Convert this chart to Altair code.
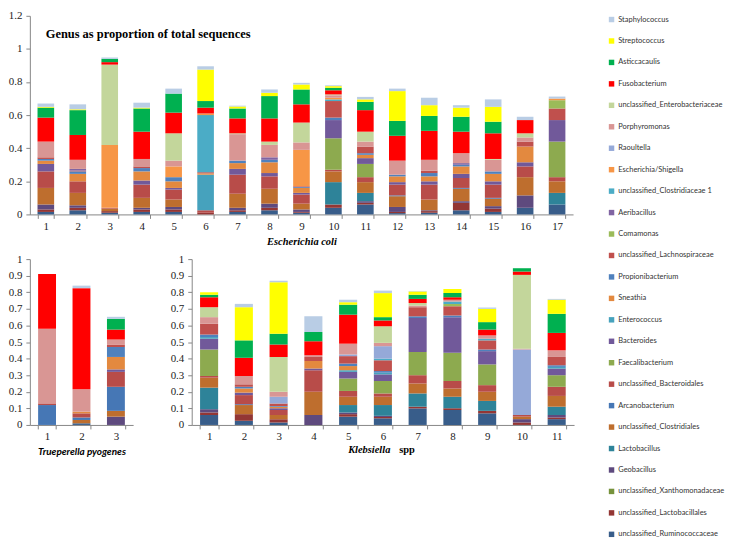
import altair as alt
import pandas as pd

# genus keys in stacking order (bottom -> top)
KEYS = ["Rum", "Lacl", "Xan", "Geo", "Lacb", "Clos", "Arc", "Bacl", "Faec", "Bact",
        "Ent", "Sne", "Prop", "Lach", "Com", "Aer", "Clo1", "Esch", "Rao", "Por",
        "Entb", "Fus", "Ast", "Strep", "Staph"]
NAMES = ["unclassified_Ruminococcaceae", "unclassified_Lactobacillales",
         "unclassified_Xanthomonadaceae", "Geobacillus", "Lactobacillus",
         "unclassified_Clostridiales", "Arcanobacterium", "unclassified_Bacteroidales",
         "Faecalibacterium", "Bacteroides", "Enterococcus", "Sneathia",
         "Propionibacterium", "unclassified_Lachnospiraceae", "Comamonas", "Aeribacillus",
         "unclassified_Clostridiaceae 1", "Escherichia/Shigella", "Raoultella",
         "Porphyromonas", "unclassified_Enterobacteriaceae", "Fusobacterium",
         "Asticcacaulis", "Streptococcus", "Staphylococcus"]
COLORS = ["#385D8A", "#933634", "#76923C", "#5E4A7E", "#2E8399",
          "#BE6E2E", "#4677B5", "#B84C49", "#8DAA4F", "#71599A",
          "#46A2BD", "#E3893F", "#4F81BD", "#C0504D", "#9BBB59",
          "#8064A2", "#4BACC6", "#F79646", "#95A9D8", "#D99694",
          "#C3D69B", "#FF0000", "#00B050", "#FFFF00", "#B9CDE5"]

ECOLI = [
    dict(Rum=.015, Lacl=.015, Geo=.03, Clos=.10, Bacl=.10, Bact=.045, Sne=.02, Prop=.01, Lach=.01, Por=.095, Fus=.145, Ast=.06, Strep=.005, Staph=.02),
    dict(Rum=.025, Lacl=.015, Geo=.015, Clos=.075, Bacl=.07, Sne=.045, Prop=.015, Lach=.005, Aer=.01, Por=.055, Fus=.15, Ast=.15, Strep=.005, Staph=.03),
    dict(Rum=.01, Lacl=.01, Clos=.015, Bacl=.005, Esch=.38, Entb=.485, Fus=.015, Ast=.02, Staph=.008),
    dict(Rum=.015, Lacl=.015, Geo=.01, Clos=.06, Bacl=.08, Bact=.025, Sne=.055, Prop=.02, Lach=.01, Por=.045, Fus=.165, Ast=.14, Strep=.005, Staph=.03),
    dict(Rum=.015, Lacl=.015, Geo=.015, Clos=.045, Bacl=.06, Bact=.01, Sne=.04, Prop=.025, Esch=.065, Por=.035, Entb=.165, Fus=.125, Ast=.115, Staph=.03),
    dict(Lacl=.01, Bacl=.015, Ent=.215, Sne=.008, Lach=.007, Clo1=.345, Esch=.01, Fus=.035, Ast=.04, Strep=.19, Staph=.02),
    dict(Rum=.015, Lacl=.01, Geo=.015, Clos=.085, Bacl=.115, Bact=.035, Sne=.035, Prop=.015, Por=.16, Entb=.005, Fus=.09, Ast=.06, Strep=.012, Staph=.005),
    dict(Rum=.025, Lacl=.015, Geo=.025, Clos=.09, Bacl=.075, Bact=.02, Sne=.065, Prop=.015, Aer=.015, Por=.075, Entb=.02, Fus=.14, Ast=.135, Strep=.02, Staph=.02),
    dict(Rum=.01, Lacl=.005, Geo=.015, Clos=.035, Bacl=.055, Bact=.01, Sne=.03, Prop=.005, Lach=.005, Esch=.22, Por=.045, Entb=.12, Fus=.11, Ast=.09, Strep=.03, Staph=.01),
    dict(Rum=.04, Lacl=.02, Lacb=.135, Clos=.065, Bacl=.01, Faec=.19, Bact=.11, Prop=.015, Lach=.1, Clo1=.01, Esch=.01, Por=.015, Entb=.005, Fus=.025, Ast=.015, Strep=.01, Staph=.005),
    dict(Rum=.06, Lacl=.01, Geo=.01, Lacb=.05, Clos=.065, Bacl=.03, Faec=.08, Bact=.035, Sne=.02, Prop=.01, Lach=.04, Por=.03, Entb=.06, Fus=.13, Ast=.05, Strep=.015, Staph=.015),
    dict(Rum=.008, Lacl=.007, Geo=.03, Clos=.065, Arc=.005, Bacl=.065, Bact=.015, Sne=.035, Prop=.01, Por=.085, Fus=.15, Ast=.09, Strep=.18, Staph=.015),
    dict(Rum=.01, Lacl=.01, Geo=.005, Clos=.065, Bacl=.09, Bact=.02, Sne=.03, Prop=.02, Lach=.015, Por=.065, Fus=.175, Ast=.09, Strep=.065, Staph=.045),
    dict(Rum=.025, Lacl=.045, Geo=.01, Clos=.075, Arc=.005, Bacl=.06, Bact=.025, Sne=.045, Prop=.01, Aer=.01, Por=.06, Fus=.13, Ast=.09, Strep=.055, Staph=.015),
    dict(Rum=.015, Lacl=.02, Geo=.015, Clos=.045, Arc=.005, Bacl=.08, Bact=.02, Sne=.045, Prop=.015, Por=.07, Entb=.005, Fus=.155, Ast=.07, Strep=.09, Staph=.045),
    dict(Rum=.04, Geo=.075, Clos=.11, Bacl=.065, Bact=.025, Sne=.095, Lach=.03, Por=.025, Entb=.025, Fus=.08, Staph=.02),
    dict(Rum=.06, Lacb=.07, Clos=.07, Bacl=.025, Faec=.215, Bact=.13, Lach=.07, Com=.05, Esch=.01, Staph=.012),
]

TRUEP = [
    dict(Arc=.12, Bacl=.01, Por=.45, Fus=.33),
    dict(Rum=.01, Clos=.02, Arc=.015, Bacl=.025, Sne=.01, Por=.135, Fus=.61, Staph=.015),
    dict(Geo=.05, Clos=.035, Arc=.145, Bacl=.09, Bact=.015, Sne=.075, Prop=.06, Lach=.015, Por=.03, Fus=.06, Ast=.065, Staph=.012),
]

KLEB = [
    dict(Rum=.06, Lacl=.015, Geo=.02, Lacb=.13, Clos=.06, Bacl=.01, Faec=.16, Bact=.065, Ent=.01, Prop=.015, Lach=.065, Por=.04, Entb=.06, Fus=.06, Ast=.015, Strep=.015),
    dict(Rum=.025, Lacl=.04, Clos=.055, Arc=.005, Bacl=.055, Bact=.015, Sne=.025, Prop=.01, Lach=.015, Por=.05, Fus=.11, Ast=.105, Strep=.2, Staph=.02),
    dict(Rum=.015, Lacl=.02, Clos=.025, Bacl=.03, Bact=.01, Sne=.01, Prop=.005, Lach=.015, Rao=.04, Por=.03, Entb=.21, Fus=.075, Ast=.065, Strep=.31, Staph=.01),
    dict(Geo=.06, Clos=.14, Bacl=.13, Bact=.01, Sne=.045, Lach=.025, Por=.01, Fus=.085, Ast=.055, Staph=.095),
    dict(Rum=.05, Lacl=.015, Geo=.01, Lacb=.045, Clos=.05, Bacl=.035, Faec=.075, Bact=.04, Ent=.01, Sne=.025, Prop=.015, Lach=.045, Rao=.01, Por=.065, Fus=.175, Ast=.06, Strep=.015, Staph=.015),
    dict(Rum=.04, Lacl=.008, Geo=.007, Lacb=.065, Clos=.05, Bacl=.02, Faec=.075, Bact=.04, Ent=.01, Prop=.01, Lach=.065, Clo1=.01, Rao=.075, Por=.02, Entb=.1, Fus=.035, Ast=.02, Strep=.145, Staph=.015),
    dict(Rum=.1, Lacl=.01, Lacb=.08, Clos=.06, Bacl=.05, Faec=.14, Bact=.205, Prop=.01, Lach=.055, Por=.01, Entb=.015, Fus=.025, Ast=.025, Strep=.02, Staph=.003),
    dict(Rum=.09, Lacl=.01, Lacb=.07, Clos=.05, Bacl=.045, Faec=.17, Bact=.215, Prop=.01, Lach=.055, Com=.015, Clo1=.015, Por=.01, Fus=.015, Ast=.025, Strep=.025),
    dict(Rum=.07, Lacl=.015, Lacb=.06, Clos=.055, Bacl=.04, Faec=.125, Bact=.08, Prop=.01, Lach=.055, Clo1=.01, Por=.02, Fus=.035, Ast=.045, Strep=.08, Staph=.008),
    dict(Lacl=.015, Geo=.02, Clos=.015, Bacl=.01, Rao=.395, Por=.005, Entb=.445, Fus=.02, Ast=.02),
    dict(Rum=.035, Lacl=.01, Geo=.015, Lacb=.05, Clos=.065, Bacl=.055, Faec=.07, Bact=.04, Ent=.01, Prop=.01, Lach=.05, Por=.04, Fus=.105, Ast=.115, Strep=.085, Staph=.005),
]

TITLE = "Genus as proportion of total sequences"
LEGEND_ORDER = NAMES[::-1]
LEGEND_COLORS = COLORS[::-1]

AX_FONT = "Liberation Serif"
AX_GRAY = "#868686"


def frame(bars):
    rows = []
    for i, b in enumerate(bars):
        for k, key in enumerate(KEYS):
            v = b.get(key, 0)
            if v > 0:
                rows.append({"bar": str(i + 1), "genus": NAMES[k], "idx": k, "value": v})
    return pd.DataFrame(rows)


def bars_chart(bars, width, height, ymax, step, xtitle=None, title_font=AX_FONT):
    df = frame(bars)
    labels = [str(i + 1) for i in range(len(bars))]
    n = int(round(ymax / step))
    ticks = [round(step * i, 2) for i in range(n)] + [ymax - 1e-6]
    xaxis = alt.Axis(labelAngle=0, tickBand="extent", tickSize=4, labelPadding=2,
                     labelFont=AX_FONT, labelFontSize=11, labelColor="#222",
                     domainColor=AX_GRAY, tickColor=AX_GRAY,
                     title=xtitle if xtitle else None,
                     titleFont=title_font, titleFontStyle="italic", titleFontWeight="bold",
                     titleFontSize=10.5 if title_font == AX_FONT else 10, titlePadding=5,
                     titleColor="#000")
    return alt.Chart(df).mark_bar().encode(
        x=alt.X("bar:N", sort=labels,
                scale=alt.Scale(paddingInner=0.48, paddingOuter=0.24), axis=xaxis),
        y=alt.Y("value:Q", stack="zero",
                scale=alt.Scale(domain=[0, ymax], nice=False),
                axis=alt.Axis(values=ticks, format=".1~f", grid=False, tickSize=4,
                              labelPadding=4, labelFont=AX_FONT, labelFontSize=11,
                              labelColor="#222", domainColor=AX_GRAY, tickColor=AX_GRAY,
                              title=None)),
        color=alt.Color("genus:N",
                        scale=alt.Scale(domain=LEGEND_ORDER, range=LEGEND_COLORS),
                        legend=alt.Legend(title=None)),
        order=alt.Order("idx:Q", sort="ascending"),
    ).properties(width=width, height=height)


top_bars = bars_chart(ECOLI, 547, 200, 1.2, 0.2, xtitle="Escherichia coli")
top_title = alt.Chart(pd.DataFrame({"t": [TITLE]})).mark_text(
    align="left", baseline="middle", font=AX_FONT, fontWeight="bold", fontSize=12.5,
    color="#000").encode(x=alt.value(16), y=alt.value(18), text="t:N")
top = alt.layer(top_bars, top_title)

bl = bars_chart(TRUEP, 104, 167, 1.0, 0.1, xtitle="Trueperella pyogenes", title_font="Lato")

kleb_bars = bars_chart(KLEB, 385, 167, 1.0, 0.1)
kw = pd.DataFrame({"t": ["Klebsiella"]})
sw = pd.DataFrame({"t": ["spp"]})
k1 = alt.Chart(kw).mark_text(align="right", baseline="middle", font=AX_FONT,
                             fontStyle="italic", fontWeight="bold", fontSize=10.5,
                             color="#000").encode(x=alt.value(200), y=alt.value(192), text="t:N")
k2 = alt.Chart(sw).mark_text(align="left", baseline="middle", font=AX_FONT,
                             fontWeight="bold", fontSize=10.5,
                             color="#000").encode(x=alt.value(209), y=alt.value(192), text="t:N")
br = alt.layer(kleb_bars, k1, k2)

chart = alt.vconcat(
    top,
    alt.hconcat(bl, br, spacing=37),
    spacing=6,
).configure_view(stroke=None).configure_legend(
    orient="right", offset=34, padding=0, labelFont="Lato", labelFontSize=7.5,
    labelColor="#333", symbolType="square", symbolSize=30, symbolStrokeWidth=0,
    rowPadding=12.6, labelOffset=3, labelLimit=220,
).properties(padding={"left": 0, "top": 0, "right": 0, "bottom": 0})

chart.save("out.html", embed_options={"renderer": "svg", "actions": False})
